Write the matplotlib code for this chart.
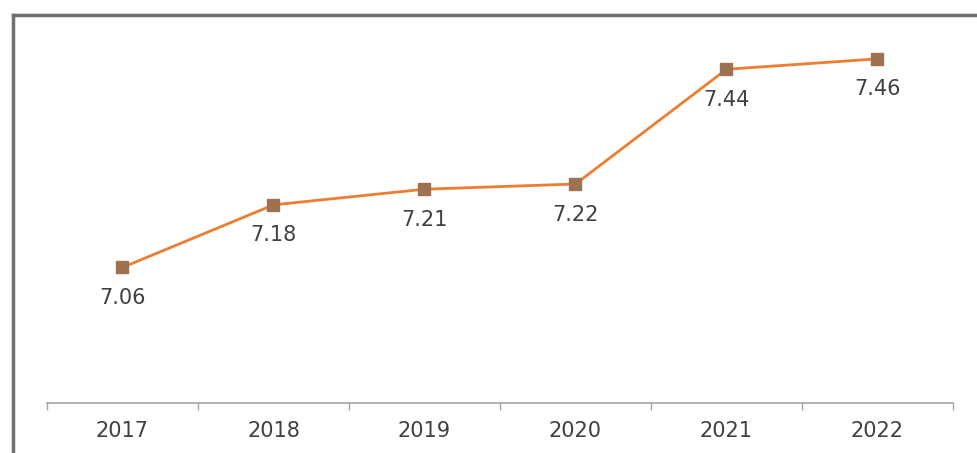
import matplotlib.pyplot as plt
from matplotlib.lines import Line2D

years = ['2017', '2018', '2019', '2020', '2021', '2022']
values = [7.06, 7.18, 7.21, 7.22, 7.44, 7.46]

fig = plt.figure(figsize=(9.78, 4.53), dpi=100)
ax = fig.add_axes([47 / 978, 1 - 403 / 453, 906 / 978, 365 / 453])

x = list(range(len(years)))
ax.plot(x, values, color='#ED7D31', linewidth=2, zorder=2)
ax.plot(x, values, linestyle='none', marker='s', markersize=9,
        markerfacecolor='#9E7150', markeredgecolor='#9E7150', zorder=3)

# value labels under each point
for xi, v in zip(x, values):
    ax.annotate(f'{v:.2f}', (xi, v), xytext=(0, -22), textcoords='offset points',
                ha='center', va='center', fontsize=15, color='#404040')

ax.set_xlim(-0.5, len(years) - 0.5)
ax.set_ylim(6.80, 7.50)
ax.set_yticks([])
ax.set_xticks(x)
ax.set_xticklabels(years, fontsize=15, color='#404040')
ax.tick_params(axis='x', length=0, pad=13)
ax.set_xticks([i - 0.5 for i in range(len(years) + 1)], minor=True)
ax.tick_params(axis='x', which='minor', length=5, color='#a6a6a6', width=1)

for side in ['top', 'right', 'left']:
    ax.spines[side].set_visible(False)
ax.spines['bottom'].set_color('#a6a6a6')
ax.spines['bottom'].set_linewidth(1.2)

# outer frame on the left and top edges
fig.add_artist(Line2D([13 / 978, 13 / 978], [0, 1 - 15 / 453], color='#707070',
                      linewidth=2.5, transform=fig.transFigure))
fig.add_artist(Line2D([13 / 978, 1], [1 - 15 / 453, 1 - 15 / 453], color='#707070',
                      linewidth=2.5, transform=fig.transFigure))

fig.savefig('out.png', dpi=100)
